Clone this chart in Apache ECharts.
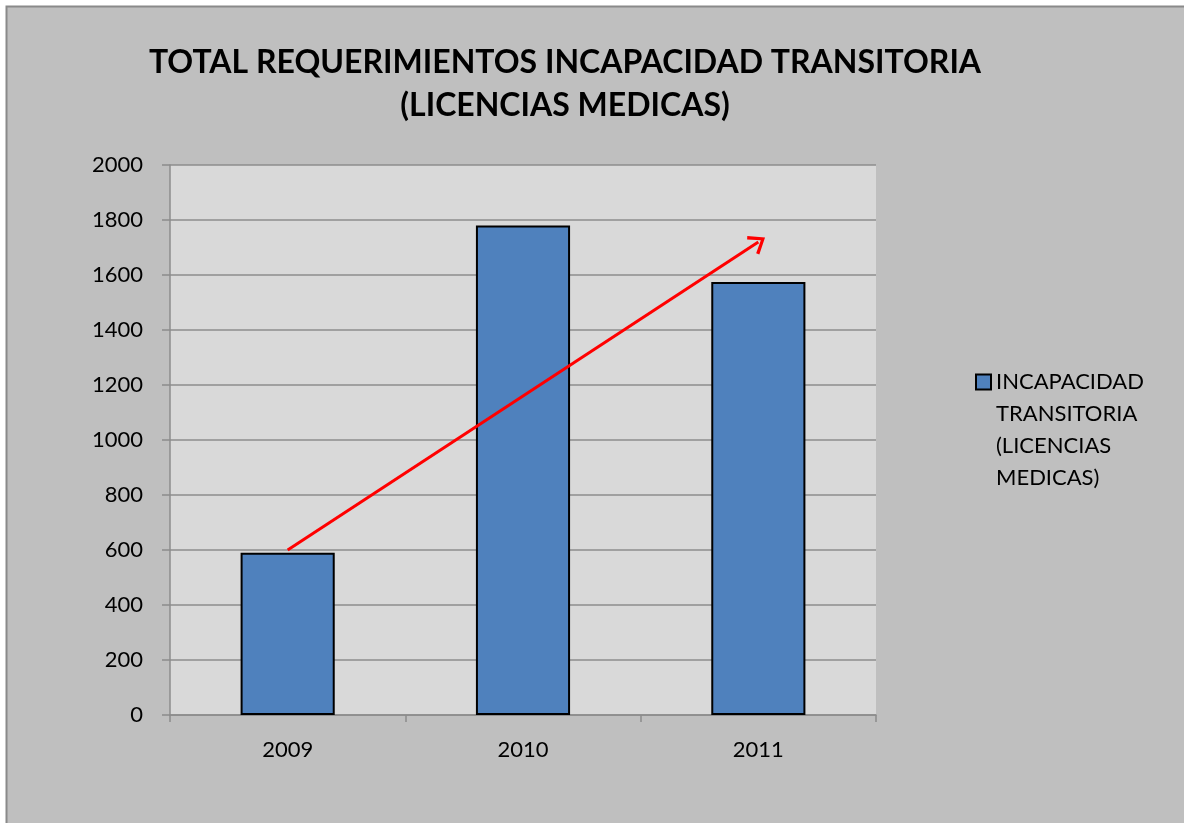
<!DOCTYPE html>
<html>
<head>
<meta charset="utf-8">
<script src="https://cdn.jsdelivr.net/npm/echarts@6/dist/echarts.min.js"></script>
<style>
  html, body { margin: 0; padding: 0; background: #fff; }
  #mychart { width: 1184px; height: 823px; }
</style>
</head>
<body>
<div id="mychart"></div>
<script>
// data
const years = ['2009', '2010', '2011'];
const requerimientos = [590, 1780, 1575];
const seriesName = 'INCAPACIDAD TRANSITORIA (LICENCIAS MEDICAS)';
const legendLines = ['INCAPACIDAD', 'TRANSITORIA', '(LICENCIAS', 'MEDICAS)'];
const yTicks = { min: 0, max: 2000, interval: 200 };
// trend arrow, in data coords (category index, value)
const trendFrom = [0, 600];
const trendTo = [2.04, 1720];

const font = 'Lato, "Open Sans", sans-serif';

let colors = {
  frame: '#bfbfbf',
  frameBorder: '#8a8a8a',
  plot: '#d9d9d9',
  grid: '#8c8c8c',
  bar: '#4f81bd',
  text: '#000',
  arrow: '#ff0000',
};

let myChart = echarts.init(document.getElementById('mychart'));

let option = {
  animation: false,
  backgroundColor: '#fff',
  graphic: [
    {
      // 外框
      type: 'rect',
      z: -10,
      shape: { x: 6.5, y: 6.5, width: 1200, height: 840 },
      style: { fill: colors.frame, stroke: colors.frameBorder, lineWidth: 2 },
    },
  ],
  title: {
    text: 'TOTAL REQUERIMIENTOS INCAPACIDAD TRANSITORIA\n(LICENCIAS MEDICAS)',
    left: 565,
    top: 41,
    textAlign: 'center',
    padding: 0,
    textStyle: {
      fontFamily: font,
      fontSize: 32,
      fontWeight: 'bold',
      lineHeight: 43,
      color: colors.text,
    },
  },
  legend: {
    left: 975,
    top: 270,
    padding: 0,
    orient: 'vertical',
    itemWidth: 15,
    itemHeight: 15,
    icon: 'rect',
    // 前置空行讓第一行與圖示對齊
    formatter: () => '\n\n\n' + legendLines.join('\n'),
    textStyle: {
      fontFamily: font,
      fontSize: 22,
      lineHeight: 32,
      color: colors.text,
    },
  },
  grid: {
    left: 170,
    top: 165,
    right: 308,
    bottom: 108,
    show: true,
    backgroundColor: colors.plot,
    borderWidth: 0,
  },
  xAxis: {
    type: 'category',
    data: years,
    axisLine: { lineStyle: { color: colors.grid, width: 1.5 } },
    axisTick: { show: true, length: 7, lineStyle: { color: colors.grid, width: 1.5 } },
    axisLabel: {
      fontFamily: font,
      fontSize: 22,
      color: colors.text,
      margin: 24,
    },
  },
  yAxis: {
    type: 'value',
    min: yTicks.min,
    max: yTicks.max,
    interval: yTicks.interval,
    axisLine: { show: true, lineStyle: { color: colors.grid, width: 1.5 } },
    axisTick: { show: true, length: 8, lineStyle: { color: colors.grid, width: 1.5 } },
    splitLine: { lineStyle: { color: colors.grid, width: 1.5 } },
    axisLabel: {
      fontFamily: font,
      fontSize: 22,
      color: colors.text,
      margin: 27,
      formatter: (v) => String(v),
    },
  },
  series: [
    {
      name: seriesName,
      type: 'bar',
      data: requerimientos,
      barWidth: '40%',
      itemStyle: {
        color: colors.bar,
        borderColor: '#000',
        borderWidth: 2,
      },
      markLine: {
        silent: true,
        symbol: ['none', 'path://M0,14 L10,0 L20,14 L17.5,16 L10,5 L2.5,16 Z'],
        symbolSize: [22, 16],
        label: { show: false },
        lineStyle: { color: colors.arrow, width: 3, type: 'solid' },
        data: [[{ coord: trendFrom }, { coord: trendTo }]],
      },
    },
  ],
};

myChart.setOption(option);
</script>
</body>
</html>
